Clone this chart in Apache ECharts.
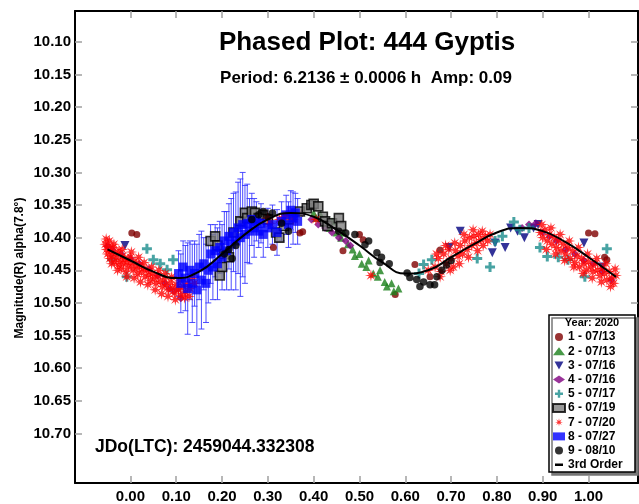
<!DOCTYPE html>
<html>
<head>
<meta charset="utf-8">
<script src="https://cdn.jsdelivr.net/npm/echarts@6/dist/echarts.min.js"></script>
<style>
  html, body { margin: 0; padding: 0; background: #fff; }
  #chart { width: 639px; height: 504px; }
</style>
</head>
<body>
<div id="chart"></div>
<script>
// tick labels
const xTicks = [0, 0.1, 0.2, 0.3, 0.4, 0.5, 0.6, 0.7, 0.8, 0.9, 1.0];
const yTicks = [10.10, 10.15, 10.20, 10.25, 10.30, 10.35, 10.40, 10.45, 10.50, 10.55, 10.60, 10.65, 10.70];
const seriesNames = ['1 - 07/13', '2 - 07/13', '3 - 07/16', '4 - 07/16', '5 - 07/17', '6 - 07/19', '7 - 07/20', '8 - 07/27', '9 - 08/10'];

// [phase, magnitude]
const s1 = [[0.003,10.393],[0.014,10.395],[0.312,10.415],[0.370,10.393],[0.376,10.391],[0.464,10.420],[0.500,10.395],[0.508,10.403],
  [0.578,10.487],[0.621,10.441],[0.654,10.460],[0.676,10.419],[1.000,10.393],[1.014,10.394],[1.035,10.430],[1.040,10.434]];
const s2 = [[0.400,10.362],[0.405,10.370],[0.415,10.365],[0.425,10.378],[0.435,10.385],[0.440,10.375],[0.450,10.392],[0.460,10.400],
  [0.465,10.392],[0.475,10.410],[0.485,10.418],[0.490,10.428],[0.500,10.425],[0.505,10.440],[0.515,10.445],[0.520,10.435],
  [0.530,10.455],[0.540,10.460],[0.545,10.450],[0.555,10.468],[0.560,10.475],[0.570,10.470],[0.575,10.482],[0.585,10.478]];
const s3 = [[-0.012,10.412],[0.696,10.415],[0.720,10.390],[0.790,10.423],[0.796,10.408],[0.818,10.415],[0.830,10.385],
  [0.845,10.390],[0.860,10.400],[0.880,10.385],[0.890,10.380],[0.990,10.408],[1.030,10.445]];
const s4 = [[-0.050,10.413],[-0.040,10.418],[-0.020,10.425],[0.000,10.432],[0.020,10.440],[0.040,10.448],[0.060,10.458],
  [0.075,10.470],[0.085,10.478],[0.095,10.482],[0.105,10.478],[0.110,10.493],
  [0.330,10.375],[0.345,10.368],[0.360,10.365],[0.375,10.362],[0.395,10.372],[0.410,10.380],[0.425,10.385],[0.440,10.392],
  [0.455,10.400],[0.470,10.405],[0.480,10.412],
  [0.855,10.385],[0.870,10.380],[0.885,10.378],[0.900,10.392],[0.915,10.398],[0.930,10.405],[0.950,10.418],[0.970,10.425],
  [0.990,10.435],[1.010,10.440],[1.030,10.452],[1.050,10.465]];
const s5 = [[-0.040,10.434],[-0.008,10.460],[0.036,10.417],[0.050,10.434],[0.065,10.440],[0.080,10.449],[0.093,10.434],
  [0.630,10.455],[0.640,10.441],[0.658,10.434],
  [0.757,10.432],[0.785,10.445],[0.796,10.405],[0.812,10.398],[0.837,10.376],[0.850,10.388],[0.870,10.385],[0.894,10.415],
  [0.910,10.429],[0.934,10.430],[0.955,10.434],[0.992,10.460],[1.040,10.417]];
const s6 = [[0.175,10.405],[0.185,10.398],[0.190,10.412],[0.195,10.458],[0.200,10.445],[0.205,10.425],[0.215,10.430],
  [0.225,10.392],[0.240,10.375],[0.250,10.362],[0.255,10.370],[0.265,10.360],[0.272,10.362],[0.280,10.370],[0.290,10.365],
  [0.300,10.372],[0.318,10.392],[0.325,10.400],[0.335,10.382],[0.345,10.372],[0.370,10.360],[0.385,10.355],[0.395,10.350],
  [0.400,10.348],[0.410,10.352],[0.420,10.368],[0.425,10.375],[0.430,10.382],[0.440,10.378],[0.455,10.370],[0.460,10.382]];
const s7 = [[-0.055,10.410],[-0.052,10.418],[-0.050,10.425],[-0.048,10.413],[-0.045,10.432],[-0.043,10.421],[-0.040,10.428],
  [-0.038,10.415],[-0.035,10.437],[-0.032,10.424],[-0.030,10.431],[-0.027,10.442],[-0.025,10.420],[-0.022,10.436],
  [-0.020,10.447],[-0.017,10.428],[-0.015,10.440],[-0.012,10.432],[-0.010,10.452],[-0.007,10.437],[-0.004,10.445],
  [0.000,10.430],[0.003,10.441],[0.006,10.450],[0.010,10.436],[0.013,10.446],[0.016,10.456],[0.020,10.442],[0.024,10.452],
  [0.028,10.447],[0.032,10.460],[0.036,10.450],[0.040,10.457],[0.044,10.466],[0.048,10.455],[0.052,10.462],[0.056,10.470],
  [0.060,10.458],[0.065,10.467],[0.070,10.475],[0.074,10.463],[0.078,10.472],[0.083,10.480],[0.088,10.468],[0.092,10.477],
  [0.096,10.485],[0.100,10.472],[0.105,10.480],[0.110,10.488],[0.115,10.475],[0.120,10.483],[0.125,10.470],[0.130,10.478],
  [0.135,10.462],[0.140,10.470],
  [-0.053,10.402],[-0.046,10.405],[-0.041,10.440],[-0.036,10.410],[-0.028,10.450],[-0.018,10.418],[-0.008,10.460],
  [0.002,10.422],[0.008,10.462],[0.018,10.430],[0.022,10.468],[0.030,10.438],[0.038,10.472],[0.046,10.445],[0.054,10.480],
  [0.062,10.450],[0.068,10.486],[0.076,10.455],[0.082,10.490],[0.090,10.460],[0.098,10.495],[0.108,10.465],[0.118,10.492],
  [0.128,10.490],
  [0.300,10.370],[0.305,10.378],[0.325,10.372],[0.335,10.368],[0.345,10.365],[0.355,10.372],[0.405,10.372],[0.525,10.458],
  [0.650,10.450],
  [0.665,10.445],[0.672,10.432],[0.678,10.452],[0.684,10.425],[0.690,10.440],[0.695,10.418],[0.700,10.432],[0.705,10.445],
  [0.710,10.420],[0.715,10.428],[0.720,10.412],[0.725,10.425],[0.730,10.405],[0.735,10.418],[0.740,10.400],[0.745,10.412],
  [0.750,10.398],[0.755,10.408],[0.760,10.395],[0.765,10.403],[0.770,10.412],[0.775,10.398],
  [0.668,10.425],[0.676,10.460],[0.688,10.412],[0.698,10.450],[0.708,10.408],[0.718,10.440],[0.728,10.395],[0.738,10.430],
  [0.748,10.388],[0.758,10.420],[0.768,10.390],[0.780,10.405],[0.785,10.395],
  [0.895,10.392],[0.900,10.400],[0.905,10.388],[0.910,10.405],[0.915,10.395],[0.920,10.410],[0.925,10.400],[0.930,10.415],
  [0.935,10.405],[0.940,10.420],[0.945,10.410],[0.950,10.425],[0.955,10.415],[0.960,10.432],[0.965,10.420],[0.970,10.438],
  [0.975,10.428],[0.980,10.445],[0.985,10.432],[0.990,10.440],[0.995,10.450],[1.000,10.437],[1.005,10.445],[1.010,10.452],
  [1.015,10.440],[1.020,10.450],[1.025,10.458],[1.030,10.447],[1.035,10.455],[1.040,10.465],[1.045,10.452],[1.050,10.462],
  [1.055,10.470],[1.060,10.458],
  [0.898,10.380],[0.908,10.418],[0.918,10.385],[0.928,10.425],[0.938,10.395],[0.948,10.435],[0.958,10.405],[0.968,10.445],
  [0.978,10.415],[0.988,10.455],[0.998,10.425],[1.008,10.462],[1.018,10.432],[1.028,10.468],[1.038,10.440],[1.048,10.475],
  [1.058,10.448]];
// [phase, magnitude, error]
const s8 = [[0.105,10.455,0.035],[0.110,10.470,0.045],[0.115,10.445,0.040],[0.120,10.462,0.050],[0.125,10.478,0.070],
  [0.130,10.450,0.045],[0.135,10.470,0.060],[0.140,10.455,0.050],[0.145,10.480,0.070],[0.150,10.445,0.050],
  [0.155,10.465,0.075],[0.160,10.440,0.040],[0.165,10.470,0.060],[0.170,10.450,0.050],[0.175,10.425,0.045],
  [0.180,10.445,0.050],[0.185,10.420,0.040],[0.190,10.440,0.055],[0.195,10.415,0.040],[0.200,10.430,0.050],
  [0.205,10.405,0.045],[0.210,10.420,0.060],[0.215,10.398,0.050],[0.220,10.410,0.070],[0.225,10.392,0.060],
  [0.230,10.405,0.075],[0.235,10.385,0.070],[0.240,10.400,0.090],[0.245,10.380,0.080],[0.250,10.395,0.075],
  [0.255,10.378,0.060],[0.260,10.390,0.050],[0.265,10.372,0.040],[0.270,10.385,0.045],[0.275,10.375,0.030],
  [0.280,10.390,0.025],[0.285,10.378,0.030],[0.290,10.395,0.035],[0.300,10.385,0.030],[0.310,10.380,0.030],
  [0.320,10.392,0.035],[0.330,10.375,0.030],[0.340,10.365,0.030],[0.345,10.380,0.035],[0.350,10.358,0.030],
  [0.355,10.370,0.040],[0.360,10.362,0.030],[0.365,10.375,0.035]];
const s9 = [[0.205,10.425],[0.215,10.418],[0.222,10.432],[0.230,10.412],[0.265,10.372],[0.280,10.365],[0.290,10.360],
  [0.300,10.368],[0.310,10.362],[0.330,10.378],[0.345,10.390],[0.455,10.390],[0.470,10.393],[0.490,10.395],
  [0.512,10.411],[0.520,10.405],[0.538,10.423],[0.545,10.438],[0.548,10.430],[0.565,10.440],[0.604,10.454],[0.610,10.461],
  [0.625,10.464],[0.632,10.475],[0.640,10.468],[0.654,10.472],[0.664,10.472],[0.669,10.460],[0.680,10.450],[0.690,10.442],
  [0.700,10.435]];
// 3rd order fit
const fitLine = [[-0.05,10.418],[0.00,10.435],[0.05,10.452],[0.10,10.462],[0.15,10.452],[0.20,10.425],[0.25,10.395],
  [0.30,10.372],[0.35,10.362],[0.40,10.368],[0.45,10.388],[0.50,10.412],[0.55,10.438],[0.60,10.455],[0.65,10.450],
  [0.70,10.430],[0.75,10.410],[0.80,10.392],[0.85,10.385],[0.90,10.390],[0.95,10.407],[1.00,10.430],[1.05,10.455],[1.06,10.46]];
// marked points
const ringDarkRed = [[0.005,10.393]];
const boxTeal = [[0.093,10.434]];
const boxDarkRed = [[0.680,10.418]];

const FONT = '"Liberation Sans", Arial, sans-serif';
const STAR = 'path://M20 10 L13.23 11.34 L17.07 17.07 L11.34 13.23 L10 20 L8.66 13.23 L2.93 17.07 L6.77 11.34 L0 10 L6.77 8.66 L2.93 2.93 L8.66 6.77 L10 0 L11.34 6.77 L17.07 2.93 L13.23 8.66 Z';
const PLUS = 'path://M7,0H13V7H20V13H13V20H7V13H0V7H7Z';
const TRI_DOWN = 'path://M0,0L20,0L10,18Z';
const LINE_ICON = 'path://M0,0L0,0.01L0.01,0Z M0,7L20,7L20,13L0,13Z M20,20L20,19.99L19.99,20Z';

const chart = echarts.init(document.getElementById('chart'));

function tickAxis(pos, isX, showLabel) {
  return {
    type: 'value',
    position: pos,
    min: isX ? -0.121 : 10.0526,
    max: isX ? 1.108 : 10.776,
    inverse: !isX,
    axisLine: { show: true, onZero: false, lineStyle: { color: '#000', width: 2 } },
    axisTick: { show: true, inside: true, length: 7, customValues: isX ? xTicks : yTicks,
      lineStyle: { color: '#a0a0a0', width: 1.5 } },
    axisLabel: { show: showLabel, customValues: isX ? xTicks : yTicks, margin: isX ? 6 : 4,
      formatter: v => v.toFixed(2), color: '#000', fontWeight: 'bold', fontSize: 15, fontFamily: FONT },
    splitLine: { show: false }
  };
}

const option = {
  backgroundColor: '#ffffff',
  animation: false,
  grid: { left: 75, right: 1, top: 11, bottom: 20 },
  xAxis: [tickAxis('bottom', true, true), tickAxis('top', true, false)],
  yAxis: [tickAxis('left', false, true), tickAxis('right', false, false)],
  legend: {
    left: 552, top: 331, orient: 'vertical', padding: 0,
    itemGap: 2.2, itemWidth: 12, itemHeight: 8,
    textStyle: { fontWeight: 'bold', fontSize: 12, fontFamily: FONT, color: '#000', lineHeight: 12, padding: [0, 0, 0, -2] },
    data: seriesNames.concat([{ name: '3rd Order', icon: LINE_ICON }]),
    z: 6
  },
  graphic: [
    { type: 'rect', z: 5, shape: { x: 549, y: 315, width: 86, height: 157 },
      style: { fill: '#fff', stroke: '#000', lineWidth: 1.5, shadowColor: '#777', shadowOffsetX: 3, shadowOffsetY: 3 } },
    { type: 'text', z: 7, x: 592, y: 323,
      style: { text: 'Year: 2020', fill: '#000', font: 'bold 11px ' + FONT, textAlign: 'center', textVerticalAlign: 'middle' } },
    { type: 'text', x: 367, y: 43,
      style: { text: 'Phased Plot: 444 Gyptis', fill: '#000', font: 'bold 26px ' + FONT, textAlign: 'center', textVerticalAlign: 'middle' } },
    { type: 'text', x: 366, y: 78,
      style: { text: 'Period: 6.2136 \u00b1 0.0006 h  Amp: 0.09', fill: '#000', font: 'bold 17px ' + FONT, textAlign: 'center', textVerticalAlign: 'middle' } },
    { type: 'text', x: 95, y: 447,
      style: { text: 'JDo(LTC): 2459044.332308', fill: '#000', font: 'bold 17.5px ' + FONT, textAlign: 'left', textVerticalAlign: 'middle' } },
    { type: 'text', x: 20, y: 268, rotation: Math.PI / 2,
      style: { text: 'Magnitude(R) alpha(7.8\u00b0)', fill: '#000', font: 'bold 12px ' + FONT, textAlign: 'center', textVerticalAlign: 'middle' } }
  ],
  series: [
    { name: seriesNames[0], type: 'scatter', data: s1, symbol: 'circle', symbolSize: 7, itemStyle: { color: '#800000' } },
    { name: seriesNames[1], type: 'scatter', data: s2, symbol: 'triangle', symbolSize: 8, itemStyle: { color: '#1a801a' } },
    { name: seriesNames[2], type: 'scatter', data: s3, symbol: TRI_DOWN, symbolSize: 9, itemStyle: { color: '#000080' } },
    { name: seriesNames[3], type: 'scatter', data: s4, symbol: 'diamond', symbolSize: 8, itemStyle: { color: '#800080' } },
    { name: seriesNames[4], type: 'scatter', data: s5, symbol: PLUS, symbolSize: 10, itemStyle: { color: '#1a8c8c' } },
    { name: seriesNames[5], type: 'scatter', data: s6, symbol: 'rect', symbolSize: 9,
      itemStyle: { color: '#808080', borderColor: '#000', borderWidth: 1.6 } },
    { name: seriesNames[6], type: 'scatter', data: s7, symbol: STAR, symbolSize: 12, itemStyle: { color: '#ff0000' } },
    { name: 'err8', type: 'custom', data: s8, encode: { x: 0, y: 1 },
      renderItem: function (params, api) {
        const x = api.value(0), y = api.value(1), e = api.value(2);
        const t = api.coord([x, y - e]);
        const b = api.coord([x, y + e]);
        const st = { stroke: '#3030ff', lineWidth: 1, opacity: 0.85 };
        return { type: 'group', children: [
          { type: 'line', shape: { x1: t[0], y1: t[1], x2: b[0], y2: b[1] }, style: st },
          { type: 'line', shape: { x1: t[0] - 3, y1: t[1], x2: t[0] + 3, y2: t[1] }, style: st },
          { type: 'line', shape: { x1: b[0] - 3, y1: b[1], x2: b[0] + 3, y2: b[1] }, style: st }
        ] };
      } },
    { name: seriesNames[7], type: 'scatter', data: s8.map(d => [d[0], d[1]]), symbol: 'rect', symbolSize: 9,
      itemStyle: { color: '#0000ff' } },
    { name: seriesNames[8], type: 'scatter', data: s9, symbol: 'circle', symbolSize: 7.5, itemStyle: { color: '#000' } },
    { name: '3rd Order', type: 'line', data: fitLine, smooth: true, showSymbol: false, symbol: 'none',
      lineStyle: { color: '#000', width: 2 }, itemStyle: { color: '#000' }, z: 3 },
    { name: 'mark1', type: 'scatter', data: ringDarkRed, symbol: 'emptyCircle', symbolSize: 15,
      itemStyle: { color: '#fff', borderColor: '#800000', borderWidth: 1 }, z: 1 },
    { name: 'mark2', type: 'scatter', data: boxTeal, symbol: 'emptyRect', symbolSize: 15,
      itemStyle: { color: '#fff', borderColor: '#1a8c8c', borderWidth: 1.2 }, z: 1 },
    { name: 'mark3', type: 'scatter', data: boxDarkRed, symbol: 'emptyRect', symbolSize: 13,
      itemStyle: { color: '#fff', borderColor: '#800000', borderWidth: 1.2 }, z: 1 }
  ]
};
chart.setOption(option);
</script>
</body>
</html>
